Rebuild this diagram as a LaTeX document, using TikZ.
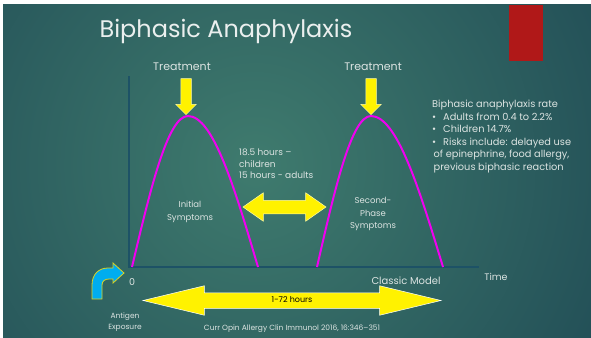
\documentclass[tikz,border=0pt]{standalone}
\usepackage{fontspec}
\setmainfont{Poppins}
\usetikzlibrary{shapes.arrows,positioning}
\definecolor{SlideDark}{HTML}{163C4D}
\definecolor{SlideLight}{HTML}{3F7B6E}
\definecolor{AxisTeal}{HTML}{1D5266}
\definecolor{HumpMagenta}{HTML}{F000F0}
\definecolor{SlideText}{HTML}{DCE4E2}
\definecolor{TabRed}{HTML}{B01818}

\begin{document}
\begin{tikzpicture}[
  x=1pt, y=-1pt,
  txt/.style={text=SlideText,inner sep=0pt,align=center,font=\fontsize{9}{11.5}\selectfont},
  hump/.style={draw=HumpMagenta,line width=2pt},
  axis/.style={draw=AxisTeal,line width=1.4pt},
  treatarrow/.style={single arrow,draw=yellow!35!white,fill=yellow,line width=.5pt,
    minimum height=36pt,inner xsep=0pt,inner ysep=5pt,single arrow head extend=5pt,
    single arrow tip angle=90,rotate=-90},
  gaparrow/.style={double arrow,draw=yellow!35!white,fill=yellow,line width=.5pt,
    minimum height=83pt,inner xsep=0pt,inner ysep=6.5pt,double arrow head extend=7.5pt,
    double arrow tip angle=70},
  rangearrow/.style={double arrow,draw=white,fill=yellow,line width=.5pt,
    minimum height=298pt,inner xsep=0pt,inner ysep=4pt,text height=5.5pt,text depth=1.5pt,
    double arrow head extend=7pt,double arrow tip angle=27,font=\fontsize{8}{9}\selectfont}
]
  % slide background
  \useasboundingbox (0,0) rectangle (591,337);
  \fill[white] (0,0) rectangle (591,337);
  \begin{scope}
    \clip (3,5) rectangle (591,337);
    \shade[inner color=SlideLight,outer color=SlideDark] (255,165) circle (560);
  \end{scope}
  \fill[TabRed] (509,5) rectangle (543,61);

  \node[txt,font=\fontsize{24}{26}\selectfont,text=SlideText!60!white] (title) at (226,31) {Biphasic Anaphylaxis};

  % axes
  \coordinate (ytop) at (129,76);
  \coordinate (origin) at (129,267);
  \coordinate (xend) at (479,267);
  \draw[axis] (ytop) -- (origin) -- (xend);

  % the two phases
  \coordinate (baseA) at (132,267);
  \coordinate (peakA) at (188,116);
  \coordinate (endA) at (258,267);
  \coordinate (baseB) at (317,267);
  \coordinate (peakB) at (371,116);
  \coordinate (endB) at (443,267);
  \draw[hump] (baseA) sin (peakA) cos (endA);
  \draw[hump] (baseB) sin (peakB) cos (endB);

  \node[txt,font=\fontsize{11}{12}\selectfont] (treatA) at (182,67) {Treatment};
  \node[txt,font=\fontsize{11}{12}\selectfont] (treatB) at (373,67) {Treatment};
  \node[treatarrow] (downA) at (186,94) {};
  \node[treatarrow] (downB) at (371,94) {};

  \node[txt,font=\fontsize{8.5}{13}\selectfont] (initial) at (190,212) {Initial\\Symptoms};
  \node[txt,font=\fontsize{8.5}{12.5}\selectfont] (second) at (373,214) {Second-\\Phase\\Symptoms};
  \node[txt,align=left,anchor=north west] (interval) at (239,149) {18.5 hours --\\children\\15 hours - adults};
  \node[gaparrow] (gap) at (284.5,207) {};

  \node[txt,align=left,anchor=north west,font=\fontsize{9.8}{12.5}\selectfont] (rate) at (432,100)
    {Biphasic anaphylaxis rate\\
     \textbullet\hspace{7pt}Adults from 0.4 to 2.2\%\\
     \textbullet\hspace{7pt}Children 14.7\%\\
     \textbullet\hspace{7pt}Risks include: delayed use\\
     \hspace{1.5pt}of epinephrine, food allergy,\\
     \hspace{1.5pt}previous biphasic reaction};

  % time axis labels
  \node[txt,font=\fontsize{9.5}{11}\selectfont] (zero) at (132,282) {0};
  \node[txt,font=\fontsize{10}{11}\selectfont] (classic) at (406,281) {Classic Model};
  \node[txt,font=\fontsize{9.5}{11}\selectfont] (time) at (496,277) {Time};

  % antigen exposure
  \draw[draw=yellow!85!black,fill=cyan,line width=.8pt]
    (92,299) -- (92,285) .. controls (92,274) and (99,268) .. (108,268) -- (113,268)
    -- (113,263) -- (124,273) -- (113,283) -- (113,279) -- (109,279)
    .. controls (105,279) and (102,281) .. (102,285) -- (102,299) -- cycle;
  \node[txt,font=\fontsize{7.5}{10.5}\selectfont] (antigen) at (125,322) {Antigen\\Exposure};

  \node[rangearrow] (range) at (292,300.5) {1-72 hours};
  \node[txt,font=\fontsize{7.5}{8}\selectfont] (cite) at (292,329) {Curr Opin Allergy Clin Immunol 2016, 16:346--351};
\end{tikzpicture}
\end{document}
